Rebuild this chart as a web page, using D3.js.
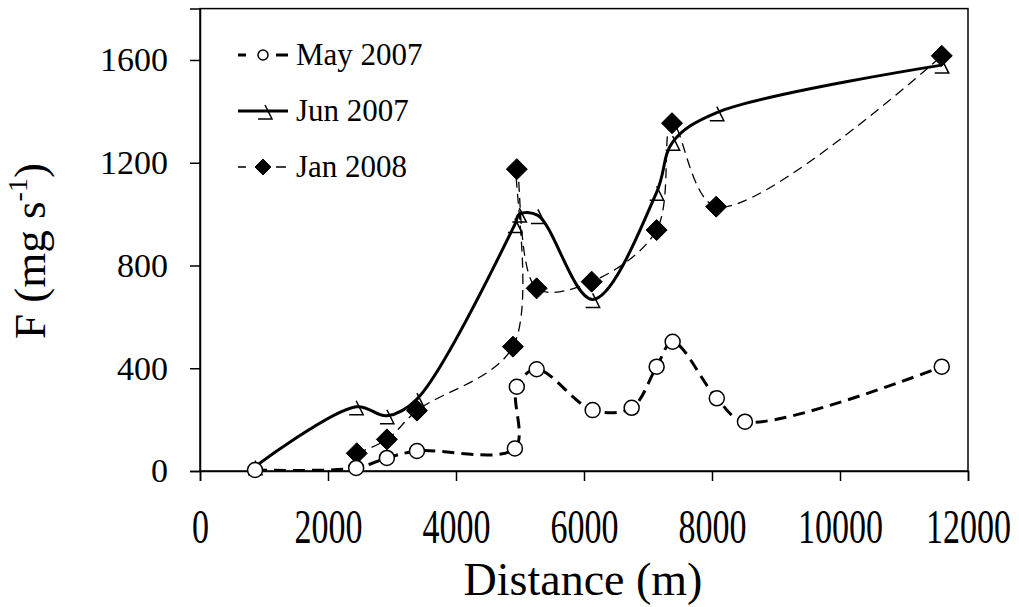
<!DOCTYPE html>
<html>
<head>
<meta charset="utf-8">
<script src="https://cdn.jsdelivr.net/npm/d3@7"></script>
<style>
  html, body { margin: 0; padding: 0; background: #fff; }
  svg { display: block; }
  text { font-family: "Liberation Serif", "Times New Roman", serif; fill: #000; }
</style>
</head>
<body>
<svg id="chart" width="1019" height="607"></svg>
<script>
// ---- data ----
const mayX = [860, 2440, 2920, 3390, 4920, 4950, 5260, 6135, 6745, 7135, 7385, 8075, 8515, 11590];
const mayY = [4, 12, 51, 78, 88, 328, 396, 237, 246, 406, 503, 283, 192, 406];
const junX = [860, 2440, 2920, 3390, 4920, 4990, 5280, 6135, 7135, 7385, 8075, 11590];
const junY = [17, 250, 215, 280, 960, 1000, 995, 668, 1085, 1280, 1395, 1580];
const janX = [2450, 2920, 3390, 4890, 4950, 5260, 6120, 7135, 7375, 8065, 11590];
const janY = [69, 123, 235, 484, 1175, 711, 737, 938, 1354, 1029, 1616];
const seriesNames = ["May 2007", "Jun 2007", "Jan 2008"];
const xTicks = [0, 2000, 4000, 6000, 8000, 10000, 12000];
const yTicks = [0, 400, 800, 1200, 1600];
const xTitle = "Distance (m)";

const svg = d3.select("#chart");
const x = d3.scaleLinear().domain([0, 12000]).range([200, 968]);
const y = d3.scaleLinear().domain([0, 1800]).range([471, 8.6]);

// frame
svg.append("rect")
  .attr("x", x(0)).attr("y", y(1800))
  .attr("width", x(12000) - x(0)).attr("height", y(0) - y(1800))
  .attr("fill", "none").attr("stroke", "#000").attr("stroke-width", 1.5);

// axes
const gx = svg.append("g").attr("transform", `translate(0,${y(0)})`)
  .call(d3.axisBottom(x).tickValues(xTicks).tickSize(10).tickPadding(14).tickFormat(d3.format("d")));
const gy = svg.append("g").attr("transform", `translate(${x(0)},0)`)
  .call(d3.axisLeft(y).tickValues(yTicks).tickSize(10).tickPadding(22).tickFormat(d3.format("d")));
[gx, gy].forEach(g => {
  g.select(".domain").attr("stroke", "#000").attr("stroke-width", 1.5);
  g.selectAll(".tick line").attr("stroke", "#000").attr("stroke-width", 1.5);
  g.selectAll(".tick text").attr("font-size", 34)
    .style("font-family", '"Liberation Serif", "Times New Roman", serif').attr("fill", "#000");
});
// x tick labels are vertically stretched in the reference
gx.selectAll(".tick text").attr("dy", 0).attr("y", 72 / 1.4).attr("transform", "scale(1,1.4)");
gy.selectAll(".tick text").attr("dy", "0.32em");

// axis titles
svg.append("text").attr("x", 583).attr("y", 595).attr("text-anchor", "middle")
  .attr("font-size", 46).text(xTitle);
const yt = svg.append("text").attr("transform", "translate(45,251) rotate(-90)")
  .attr("text-anchor", "middle").attr("font-size", 45);
yt.append("tspan").text("F (mg s");
yt.append("tspan").attr("font-size", 28).attr("dy", -18).text("-1");
yt.append("tspan").attr("dy", 18).text(")");

// lines
const line = d3.line().x(d => x(d[0])).y(d => y(d[1])).curve(d3.curveCatmullRom.alpha(0.5));
const may = mayX.map((v, i) => [v, mayY[i]]);
const jun = junX.map((v, i) => [v, junY[i]]);
const jan = janX.map((v, i) => [v, janY[i]]);

const styles = [
  { w: 3, dash: "12,7" },
  { w: 3, dash: null },
  { w: 1.3, dash: "10,6" }
];

const plot = svg.append("g");
[may, jun, jan].forEach((data, i) => {
  const p = plot.append("path").datum(data).attr("d", line)
    .attr("fill", "none").attr("stroke", "#000").attr("stroke-width", styles[i].w);
  if (styles[i].dash) p.attr("stroke-dasharray", styles[i].dash);
});

// marker drawers
function circleMarker(g, cx, cy, r) {
  g.append("circle").attr("cx", cx).attr("cy", cy).attr("r", r)
    .attr("fill", "#fff").attr("stroke", "#000").attr("stroke-width", 1.5);
}
function triMarker(g, cx, cy, s) {
  g.append("path")
    .attr("d", `M${cx},${cy - 6 * s}L${cx + 7 * s},${cy + 8 * s}L${cx - 7 * s},${cy + 8 * s}`)
    .attr("fill", "none").attr("stroke", "#000").attr("stroke-width", 1.5);
}
function diamondMarker(g, cx, cy, h) {
  g.append("path")
    .attr("d", `M${cx},${cy - h}L${cx + h},${cy}L${cx},${cy + h}L${cx - h},${cy}Z`)
    .attr("fill", "#000").attr("stroke", "#000").attr("stroke-width", 1);
}

const mk = svg.append("g");
jun.forEach(d => triMarker(mk, x(d[0]), y(d[1]), 1));
jan.forEach(d => diamondMarker(mk, x(d[0]), y(d[1]), 10.5));
may.forEach(d => circleMarker(mk, x(d[0]), y(d[1]), 7.5));

// legend
const leg = svg.append("g");
const rows = [55, 111, 167];
rows.forEach((ry, i) => {
  const l = leg.append("line").attr("x1", 238).attr("x2", 288).attr("y1", ry).attr("y2", ry)
    .attr("stroke", "#000").attr("stroke-width", styles[i].w);
  if (i === 0) l.attr("stroke-dasharray", "8,30,12");
  if (i === 2) l.attr("stroke-dasharray", "8,30,10,3,2");
  if (i === 0) circleMarker(leg, 263, ry, 5);
  if (i === 1) triMarker(leg, 265, ry, 1);
  if (i === 2) diamondMarker(leg, 263, ry, 8);
  leg.append("text").attr("x", 296).attr("y", ry + 10).attr("font-size", 31).text(seriesNames[i]);
});
</script>
</body>
</html>
